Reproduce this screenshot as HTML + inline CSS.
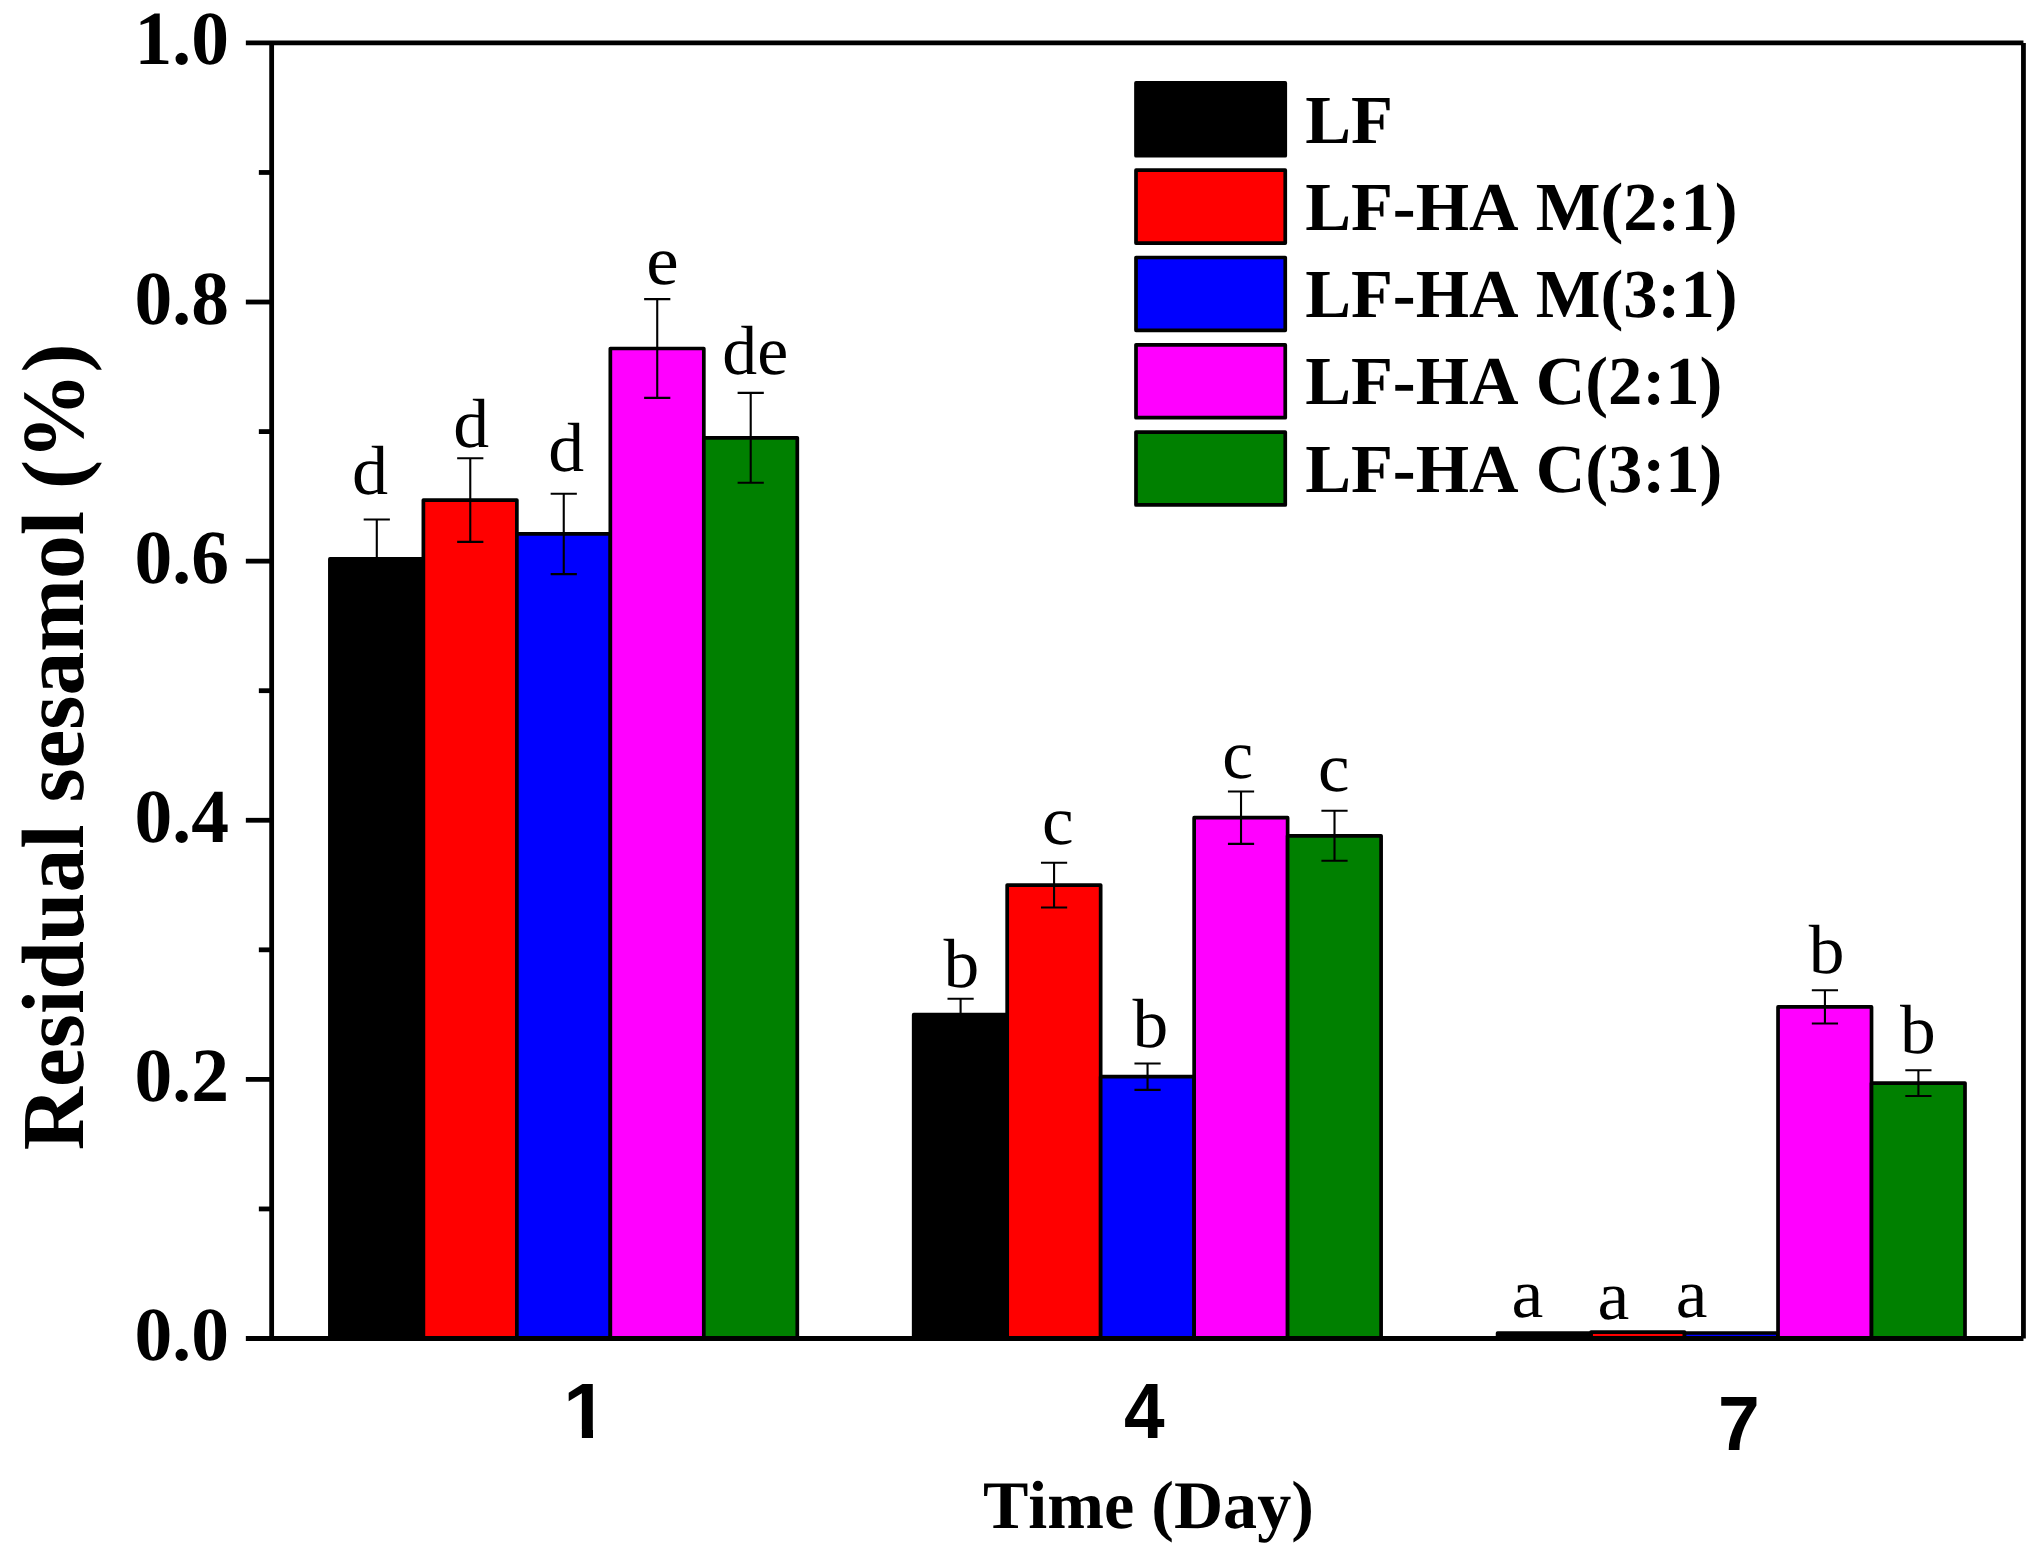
<!DOCTYPE html>
<html lang="en"><head><meta charset="utf-8"><title>Residual sesamol (%) vs Time (Day)</title>
<style>html,body{margin:0;padding:0;background:#fff}body{width:2036px;height:1556px;overflow:hidden}svg{display:block}text{fill:#000;font-kerning:none;white-space:pre;text-rendering:geometricPrecision}.sb{font-family:"Liberation Serif", serif;font-weight:bold}.sr{font-family:"Liberation Serif", serif;font-weight:normal}.ab{font-family:"Liberation Sans", sans-serif;font-weight:bold}</style></head><body>
<svg width="2036" height="1556" viewBox="0 0 2036 1556">
<rect width="2036" height="1556" fill="#fff"/>
<g stroke="#000" stroke-width="3.7" stroke-linejoin="round">
<rect x="329.90" y="558.90" width="93.48" height="779.60" fill="#000000"/>
<rect x="423.38" y="500.10" width="93.48" height="838.40" fill="#ff0000"/>
<rect x="516.86" y="533.95" width="93.48" height="804.55" fill="#0000ff"/>
<rect x="610.34" y="348.50" width="93.48" height="990.00" fill="#ff00ff"/>
<rect x="703.82" y="437.80" width="93.48" height="900.70" fill="#008000"/>
<rect x="913.70" y="1014.70" width="93.48" height="323.80" fill="#000000"/>
<rect x="1007.18" y="885.10" width="93.48" height="453.40" fill="#ff0000"/>
<rect x="1100.66" y="1076.70" width="93.48" height="261.80" fill="#0000ff"/>
<rect x="1194.14" y="817.70" width="93.48" height="520.80" fill="#ff00ff"/>
<rect x="1287.62" y="835.80" width="93.48" height="502.70" fill="#008000"/>
<rect x="1497.60" y="1333.10" width="93.48" height="5.40" fill="#000000"/>
<rect x="1591.08" y="1332.20" width="93.48" height="6.30" fill="#ff0000"/>
<rect x="1684.56" y="1333.00" width="93.48" height="5.50" fill="#0000ff"/>
<rect x="1778.04" y="1006.90" width="93.48" height="331.60" fill="#ff00ff"/>
<rect x="1871.52" y="1083.10" width="93.48" height="255.40" fill="#008000"/>
</g>
<g stroke="#000" stroke-width="2.1" fill="none">
<path d="M363.69 519.50H389.89M376.79 519.50V598.30M363.69 598.30H389.89"/>
<path d="M457.17 458.30H483.37M470.27 458.30V541.90M457.17 541.90H483.37"/>
<path d="M550.65 493.75H576.85M563.75 493.75V574.15M550.65 574.15H576.85"/>
<path d="M644.13 299.10H670.33M657.23 299.10V397.90M644.13 397.90H670.33"/>
<path d="M737.61 392.90H763.81M750.71 392.90V482.70M737.61 482.70H763.81"/>
<path d="M947.49 998.70H973.69M960.59 998.70V1030.70M947.49 1030.70H973.69"/>
<path d="M1040.97 862.70H1067.17M1054.07 862.70V907.50M1040.97 907.50H1067.17"/>
<path d="M1134.45 1063.50H1160.65M1147.55 1063.50V1089.90M1134.45 1089.90H1160.65"/>
<path d="M1227.93 791.55H1254.13M1241.03 791.55V843.85M1227.93 843.85H1254.13"/>
<path d="M1321.41 810.80H1347.61M1334.51 810.80V860.80M1321.41 860.80H1347.61"/>
<path d="M1811.83 990.30H1838.03M1824.93 990.30V1023.50M1811.83 1023.50H1838.03"/>
<path d="M1905.31 1070.20H1931.51M1918.41 1070.20V1096.00M1905.31 1096.00H1931.51"/>
</g>
<g stroke="#000" stroke-width="4.8" fill="none">
<path d="M245.85 42.90H2023.45"/>
<path d="M245.85 1338.50H2023.45"/>
<path d="M271.65 42.90V1338.50"/>
<path d="M2023.45 42.90V1338.50"/>
<path d="M258.85 1208.94H271.65"/>
<path d="M245.85 1079.38H271.65"/>
<path d="M258.85 949.82H271.65"/>
<path d="M245.85 820.26H271.65"/>
<path d="M258.85 690.70H271.65"/>
<path d="M245.85 561.14H271.65"/>
<path d="M258.85 431.58H271.65"/>
<path d="M245.85 302.02H271.65"/>
<path d="M258.85 172.46H271.65"/>
</g>
<text class="sb" font-size="76.5" transform="translate(134.52 1360.05) scale(0.9870 1)">0.0</text>
<text class="sb" font-size="76.5" transform="translate(134.52 1100.93) scale(0.9870 1)">0.2</text>
<text class="sb" font-size="76.5" transform="translate(134.52 841.81) scale(0.9870 1)">0.4</text>
<text class="sb" font-size="76.5" transform="translate(134.52 582.69) scale(0.9870 1)">0.6</text>
<text class="sb" font-size="76.5" transform="translate(134.52 323.57) scale(0.9870 1)">0.8</text>
<text class="sb" font-size="76.5" transform="translate(134.52 64.45) scale(0.9870 1)">1.0</text>
<text class="sb" font-size="87.5" transform="translate(83.3 1150.20) rotate(-90) scale(1 1.012)">Residual sesamol (%)</text>
<text class="sb" font-size="68.1" x="982.94" y="1527.70">Time (Day)</text>
<defs><clipPath id="c1"><path d="M0 -60H29.4V1H18.45V-8.6H0Z"/></clipPath></defs>
<text class="ab" font-size="78.5" transform="translate(563.14 1438) scale(1.0160 1)" clip-path="url(#c1)">1</text>
<text class="ab" font-size="78.5" transform="translate(1123.89 1438.00) scale(0.9300 1)">4</text>
<text class="ab" font-size="76.9" transform="translate(1717.88 1449.80) scale(0.9756 1)">7</text>
<g stroke="#000" stroke-width="3.7" stroke-linejoin="round">
<rect x="1136.0" y="82.90" width="149.25" height="72.85" fill="#000000"/>
<rect x="1136.0" y="170.20" width="149.25" height="72.85" fill="#ff0000"/>
<rect x="1136.0" y="257.50" width="149.25" height="72.85" fill="#0000ff"/>
<rect x="1136.0" y="344.80" width="149.25" height="72.85" fill="#ff00ff"/>
<rect x="1136.0" y="432.10" width="149.25" height="72.85" fill="#008000"/>
</g>
<text class="sb" font-size="68.6" x="1305.18" y="142.50">LF</text>
<text class="sb" font-size="68.6" x="1305.18" y="229.80">LF-HA M(2:1)</text>
<text class="sb" font-size="68.6" x="1305.18" y="317.10">LF-HA M(3:1)</text>
<text class="sb" font-size="68.6" x="1305.18" y="404.40">LF-HA C(2:1)</text>
<text class="sb" font-size="68.6" x="1305.18" y="491.70">LF-HA C(3:1)</text>
<text class="sr" font-size="69.5" transform="translate(351.98 494.35) scale(1.0390 1)">d</text>
<text class="sr" font-size="69.5" transform="translate(453.31 447.42) scale(1.0320 1)">d</text>
<text class="sr" font-size="69.5" transform="translate(548.31 471.17) scale(1.0320 1)">d</text>
<text class="sr" font-size="69.5" transform="translate(646.14 284.43) scale(1.0500 1)">e</text>
<text class="sr" font-size="69.5" transform="translate(722.37 374.02) scale(1.0040 1)">de</text>
<text class="sr" font-size="69.5" transform="translate(943.50 987.17) scale(1.0280 1)">b</text>
<text class="sr" font-size="69.5" transform="translate(1042.10 843.78) scale(1.0240 1)">c</text>
<text class="sr" font-size="69.5" transform="translate(1132.60 1047.37) scale(1.0280 1)">b</text>
<text class="sr" font-size="69.5" transform="translate(1222.24 777.63) scale(1.0050 1)">c</text>
<text class="sr" font-size="69.5" transform="translate(1317.99 791.43) scale(1.0210 1)">c</text>
<text class="sr" font-size="69.5" transform="translate(1511.48 1317.42) scale(1.0310 1)">a</text>
<text class="sr" font-size="69.5" transform="translate(1597.58 1319.47) scale(1.0310 1)">a</text>
<text class="sr" font-size="69.5" transform="translate(1675.79 1317.42) scale(1.0270 1)">a</text>
<text class="sr" font-size="69.5" transform="translate(1808.70 972.52) scale(1.0280 1)">b</text>
<text class="sr" font-size="69.5" transform="translate(1899.90 1053.27) scale(1.0280 1)">b</text>
</svg></body></html>
